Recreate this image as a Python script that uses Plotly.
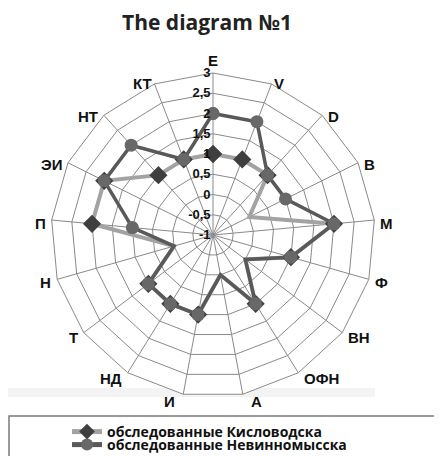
import math
import plotly.graph_objects as go

categories = ["E", "V", "D", "B", "M", "Ф", "ВН", "ОФН", "А", "И", "НД", "Т", "Н", "П", "ЭИ", "НТ", "КТ"]
kislovodsk = [1, 1, 1, 0, 2, 1, 0, 1, 0, 1, 1, 1, 0, 2, 2, 1, 1]
nevinnomyssk = [2, 2, 1, 1, 2, 1, 0, 1, 0, 1, 1, 1, 0, 1, 2, 2, 1]
series_names = ["обследованные Кисловодска", "обследованные Невинномысска"]
tick_vals = [-1, -0.5, 0, 0.5, 1, 1.5, 2, 2.5, 3]
tick_text = ["-1", "-0,5", "0", "0,5", "1", "1,5", "2", "2,5", "3"]

W, H = 442, 456
OFF = 8  # page body margin offsets the figure inside the window
cx, cy, R = 213 - OFF, 235 - OFF, 162


def px_x(x):
    return x / W


def px_y(y):
    return 1 - y / H


fig = go.Figure()
fig.add_trace(go.Scatterpolar(
    r=kislovodsk + kislovodsk[:1], theta=categories + categories[:1],
    mode="lines+markers", name=series_names[0], legend="legend",
    line=dict(color="#a3a3a3", width=4),
    marker=dict(symbol="diamond", size=14, color="#3f3f3f"),
))
fig.add_trace(go.Scatterpolar(
    r=nevinnomyssk + nevinnomyssk[:1], theta=categories + categories[:1],
    mode="lines+markers", name=series_names[1], legend="legend2",
    line=dict(color="#595959", width=3.5),
    marker=dict(symbol="circle", size=13, color="#686868"),
))

# category labels beside the outer polygon vertices (Excel-like placement)
annotations = []
n = len(categories)
for i, c in enumerate(categories):
    a = math.radians(i * 360 / n)
    ux, uy = math.sin(a), -math.cos(a)          # screen direction (y down)
    vx, vy = cx + R * ux, cy + R * uy
    if abs(ux) < 0.05:
        xa, lx, ly = "center", vx, vy - 14
    else:
        gap = 1.5 if (uy < 0 and abs(ux) < 0.4) else (7 if uy > 0.9 else 5)
        xa = "left" if ux > 0 else "right"
        lx = vx + gap * (1 if ux > 0 else -1)
        ly = vy + 2 + 4 * uy * abs(uy)
    annotations.append(dict(
        text="<b>" + c + "</b>", x=px_x(lx), y=px_y(ly + 1), xref="paper", yref="paper",
        showarrow=False, xanchor=xa, yanchor="middle", borderpad=0,
        font=dict(family="Liberation Sans", size=15, color="#111111"),
    ))

leg_font = dict(family="Open Sans", size=14, color="#111111", weight="bold")
fig.update_layout(
    width=W, height=H,
    margin=dict(l=0, r=0, t=0, b=0),
    paper_bgcolor="white", plot_bgcolor="white",
    title=dict(text="<b>The diagram №1</b>", x=199 / W, xanchor="center",
               y=1 - 15 / H, yanchor="middle",
               font=dict(family="Open Sans", size=21, color="#222222")),
    polar=dict(
        domain=dict(x=[px_x(cx - R), px_x(cx + R)], y=[px_y(cy + R), px_y(cy - R)]),
        gridshape="linear",
        bgcolor="white",
        angularaxis=dict(rotation=90, direction="clockwise", showline=True,
                         linecolor="#8a8a8a", linewidth=1, gridcolor="#8a8a8a",
                         gridwidth=1, ticks="", showticklabels=False),
        radialaxis=dict(range=[-1, 3], tickvals=tick_vals,
                        ticktext=["<b>" + t + "</b>" for t in tick_text],
                        angle=90, side="counterclockwise", tickangle=90,
                        showline=False, gridcolor="#8a8a8a", gridwidth=1, ticks="",
                        tickfont=dict(family="Liberation Sans", size=13, color="#111111")),
    ),
    annotations=annotations,
    legend=dict(x=px_x(59), xanchor="left", y=px_y(424), yanchor="middle",
                bgcolor="rgba(0,0,0,0)", borderwidth=0, itemsizing="constant",
                font=leg_font),
    legend2=dict(x=px_x(59), xanchor="left", y=px_y(437), yanchor="middle",
                 bgcolor="rgba(0,0,0,0)", borderwidth=0, itemsizing="constant",
                 font=leg_font),
    showlegend=True,
    shapes=[
        dict(type="rect", xref="paper", yref="paper", x0=0, x1=px_x(375 - OFF),
             y0=px_y(397 - OFF), y1=px_y(388 - OFF), fillcolor="#f3f3f3", line=dict(width=0), layer="below"),
        dict(type="rect", xref="paper", yref="paper", x0=px_x(1), x1=px_x(438 - OFF),
             y0=-0.05, y1=px_y(416 - OFF), fillcolor="rgba(0,0,0,0)", line=dict(color="#7a7a7a", width=1.5)),
    ],
)

fig.write_html("out.html")
